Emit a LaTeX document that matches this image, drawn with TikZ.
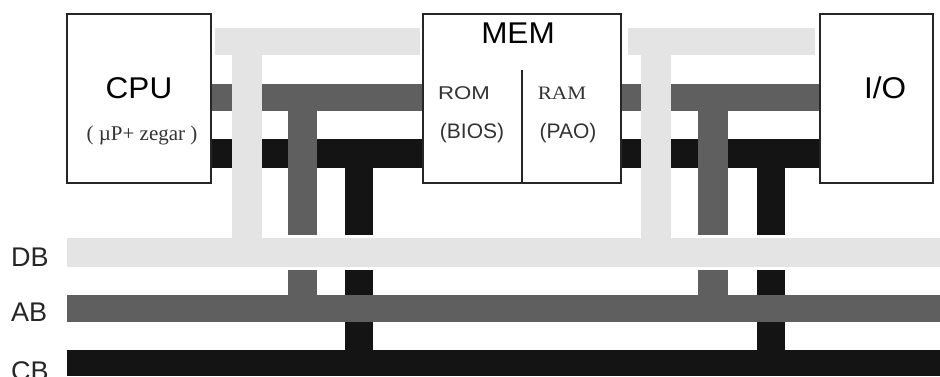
\documentclass[tikz,border=0pt]{standalone}
\usepackage{fontspec}
\setmainfont{Liberation Sans}
\newfontfamily\seriffont{Liberation Serif}
\definecolor{dbc}{RGB}{228,228,228}
\definecolor{abc}{RGB}{95,95,95}
\definecolor{cbc}{RGB}{20,20,20}
\begin{document}
\begin{tikzpicture}[x=1pt,y=1pt,
  box/.style={draw=black!85, line width=1.3pt, fill=white, inner sep=0pt},
  bigtxt/.style={font=\fontsize{30}{30}\selectfont, inner sep=0pt, xscale=1.05},
  midtxt/.style={font=\fontsize{21}{21}\selectfont, inner sep=0pt, text=black!80},
  bustxt/.style={font=\fontsize{27}{27}\selectfont, inner sep=0pt, anchor=west, text=black!85}]
\useasboundingbox (0,0) rectangle (940,376);
% upper address and control lines
\fill[abc] (211,265) rectangle (423,292);
\fill[abc] (621,265) rectangle (820,292);
\fill[cbc] (211,208) rectangle (423,237);
\fill[cbc] (621,208) rectangle (820,237);
% address taps
\fill[abc] (288,60) rectangle (317,270);
\fill[abc] (698,60) rectangle (728,270);
% control taps
\fill[cbc] (345,15) rectangle (373,215);
\fill[cbc] (757,15) rectangle (785,215);
% address bus and control bus
\fill[abc] (67,54) rectangle (940,81);
\fill[cbc] (67,0) rectangle (940,26);
% data bus with white border
\fill[white] (67,106) rectangle (940,141);
\fill[dbc] (67,109) rectangle (940,138);
% data taps
\fill[dbc] (215,321) rectangle (420,348);
\fill[dbc] (232,125) rectangle (262,348);
\fill[dbc] (628,321) rectangle (815,348);
\fill[dbc] (641,125) rectangle (671,348);
% boxes
\node[box, minimum width=144pt, minimum height=169pt] (cpu) at (139,277.5) {};
\node[box, minimum width=198pt, minimum height=169pt] (mem) at (522,277.5) {};
\node[box, minimum width=113pt, minimum height=169pt] (io) at (876.5,277.5) {};
\coordinate (divtop) at (522,306);
\draw[line width=1.3pt, black!85] (divtop) -- (divtop |- mem.south);
% texts
\node[bigtxt] (cpulbl) at (139,288) {CPU};
\node[font=\seriffont\fontsize{21}{21}\selectfont, inner sep=0pt, text=black!80] (cpusub) at (142,241) {( µP+ zegar )};
\node[bigtxt] (memlbl) at (518,343) {MEM};
\node[bigtxt] (iolbl) at (885,288) {I/O};
\node[midtxt, font=\fontsize{18.5}{18.5}\selectfont, xscale=1.2] (romlbl) at (464,283) {ROM};
\node[midtxt] (bioslbl) at (472,243) {(BIOS)};
\node[midtxt, font=\seriffont\fontsize{19}{19}\selectfont, xscale=1.12] (ramlbl) at (562,283) {RAM};
\node[midtxt] (paolbl) at (568,243) {(PAO)};
\node[bustxt] (dblbl) at (11,119) {DB};
\node[bustxt] (ablbl) at (11,64) {AB};
\node[bustxt] (cblbl) at (11,5) {CB};
\end{tikzpicture}
\end{document}
